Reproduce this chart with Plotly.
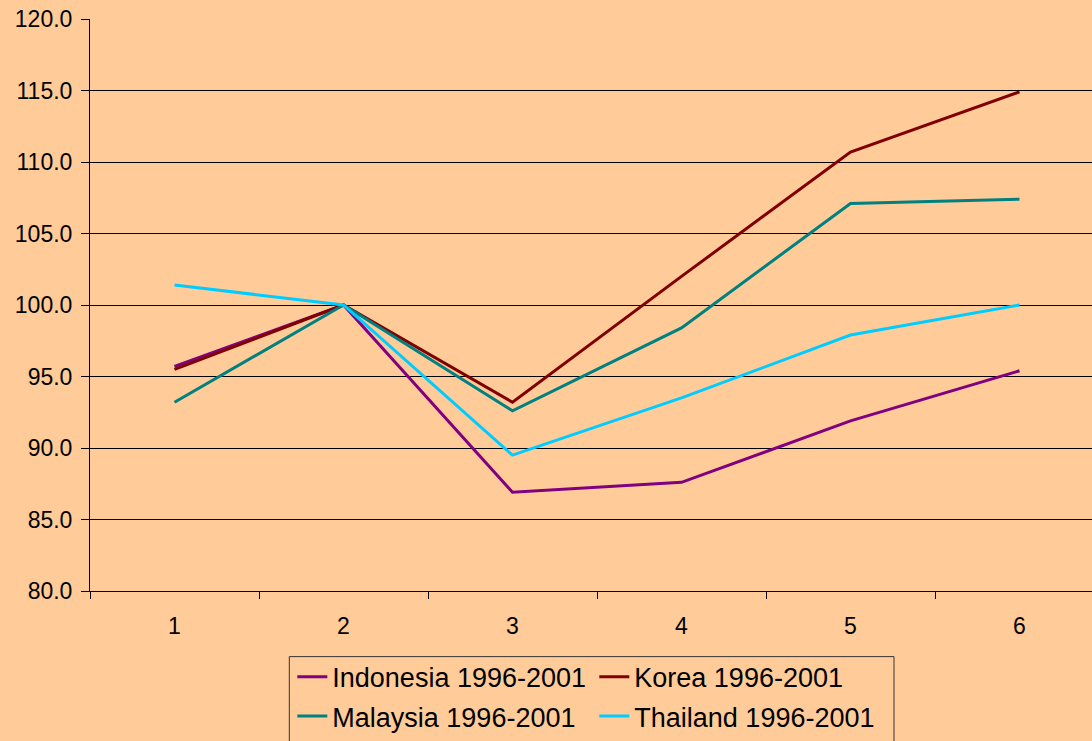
import plotly.graph_objects as go

periods = ["1", "2", "3", "4", "5", "6"]
indonesia = [95.7, 100.0, 86.9, 87.6, 91.9, 95.4]
korea = [95.5, 100.0, 93.2, 102.0, 110.7, 114.9]
malaysia = [93.2, 100.0, 92.6, 98.4, 107.1, 107.4]
thailand = [101.4, 100.0, 89.5, 93.5, 97.9, 100.0]

series = [
    ("Indonesia 1996-2001", indonesia, "#800080", "legend"),
    ("Korea 1996-2001", korea, "#800000", "legend"),
    ("Malaysia 1996-2001", malaysia, "#008080", "legend2"),
    ("Thailand 1996-2001", thailand, "#00CCFF", "legend2"),
]

BG = "#FFCC99"
FONT = "Liberation Sans, Arial, sans-serif"

fig = go.Figure()
for name, vals, color, lg in series:
    fig.add_trace(go.Scatter(
        x=periods, y=vals, name=name, mode="lines",
        line=dict(color=color, width=3),
        legend=lg,
    ))

W, H = 1092, 741
ml, mt, mb = 90, 19, 144
plot_w = W - ml
plot_h = H - mt - mb
cat_w = 169.0


def px_x(p):
    return (p - ml) / plot_w


def px_y(p):
    return (H - mb - p) / plot_h


legend_common = dict(
    orientation="h",
    bgcolor="rgba(0,0,0,0)",
    borderwidth=0,
    font=dict(family=FONT, size=27, color="black"),
    xanchor="left",
    yanchor="middle",
    entrywidth=257,
    entrywidthmode="pixels",
    tracegroupgap=0,
)

fig.update_layout(
    width=W, height=H,
    margin=dict(l=ml, r=0, t=mt, b=mb),
    paper_bgcolor=BG,
    plot_bgcolor=BG,
    font=dict(family=FONT, size=23, color="black"),
    showlegend=True,
    legend=dict(legend_common, x=px_x(292.3), y=px_y(684)),
    legend2=dict(legend_common, x=px_x(292.3), y=px_y(724)),
    xaxis=dict(
        type="category",
        range=[-0.5, -0.5 + plot_w / cat_w],
        showgrid=False,
        showline=True, linecolor="black", linewidth=1,
        ticks="outside", ticklen=7, tickcolor="black", tickwidth=1,
        tickson="boundaries",
        ticklabelstandoff=14,
        tickfont=dict(family=FONT, size=23, color="black"),
        zeroline=False,
    ),
    yaxis=dict(
        range=[80, 120],
        tickmode="linear", tick0=80, dtick=5,
        tickformat=".1f",
        showgrid=True, gridcolor="black", gridwidth=1,
        showline=True, linecolor="black", linewidth=1,
        ticks="outside", ticklen=8, tickcolor="black", tickwidth=1,
        ticklabelstandoff=4,
        tickfont=dict(family=FONT, size=23, color="black"),
        zeroline=False,
    ),
    shapes=[dict(
        type="rect", xref="paper", yref="paper",
        x0=px_x(289.3), x1=px_x(894), y0=px_y(663.3), y1=px_y(800),
        line=dict(color="#333333", width=1),
        fillcolor="rgba(0,0,0,0)",
        layer="above",
    )],
)

css_js = (
    "var s=document.createElement('style');"
    "s.textContent='html,body{margin:0;padding:0;overflow:hidden;background:#FFCC99;}';"
    "document.head.appendChild(s);"
)

fig.write_html(
    "out.html",
    config={"displayModeBar": False},
    post_script=css_js,
)
